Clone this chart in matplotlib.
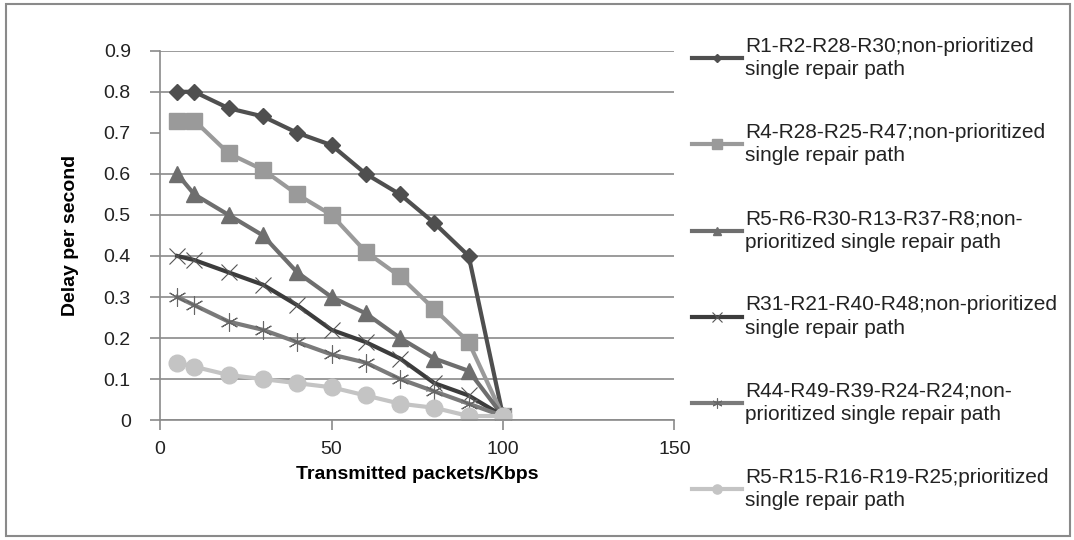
"""
Delay per second vs transmitted packets for several repair paths.
Writes out.png
"""
import matplotlib.pyplot as plt
from matplotlib.patches import Rectangle

plt.rcParams['font.family'] = ['Liberation Sans', 'DejaVu Sans']

x = [5, 10, 20, 30, 40, 50, 60, 70, 80, 90, 100]

r1 = [0.80, 0.80, 0.76, 0.74, 0.70, 0.67, 0.60, 0.55, 0.48, 0.40, 0.01]
r4 = [0.73, 0.73, 0.65, 0.61, 0.55, 0.50, 0.41, 0.35, 0.27, 0.19, 0.01]
r5 = [0.60, 0.55, 0.50, 0.45, 0.36, 0.30, 0.26, 0.20, 0.15, 0.12, 0.01]
r31 = [0.40, 0.39, 0.36, 0.33, 0.28, 0.22, 0.19, 0.15, 0.09, 0.06, 0.01]
r44 = [0.30, 0.28, 0.24, 0.22, 0.19, 0.16, 0.14, 0.10, 0.07, 0.04, 0.01]
r5p = [0.14, 0.13, 0.11, 0.10, 0.09, 0.08, 0.06, 0.04, 0.03, 0.01, 0.01]

labels = [
    'R1-R2-R28-R30;non-prioritized\nsingle repair path',
    'R4-R28-R25-R47;non-prioritized\nsingle repair path',
    'R5-R6-R30-R13-R37-R8;non-\nprioritized single repair path',
    'R31-R21-R40-R48;non-prioritized\nsingle repair path',
    'R44-R49-R39-R24-R24;non-\nprioritized single repair path',
    'R5-R15-R16-R19-R25;prioritized\nsingle repair path',
]
yticks = [0, 0.1, 0.2, 0.3, 0.4, 0.5, 0.6, 0.7, 0.8, 0.9]
xticks = [0, 50, 100, 150]

fig = plt.figure(figsize=(10.74, 5.40), dpi=100)
ax = fig.add_axes([0.149, 0.222, 0.479, 0.684])

series = [
    (r1, dict(color='#4f4f4f', marker='D', markersize=8, lw=3)),
    (r4, dict(color='#9a9a9a', marker='s', markersize=12, lw=3)),
    (r5, dict(color='#6e6e6e', marker='^', markersize=11, lw=3)),
    (r31, dict(color='#3c3c3c', marker='x', markersize=12, lw=3,
               markeredgewidth=0.8, markeredgecolor='#555555')),
    (r44, dict(color='#7a7a7a', marker=(6, 2, 0), markersize=13, lw=3,
               markeredgewidth=0.8, markeredgecolor='#666666')),
    (r5p, dict(color='#c4c4c4', marker='o', markersize=12, lw=3)),
]
handles = []
for ys, style in series:
    h, = ax.plot(x, ys, **style)
    handles.append(h)

ax.set_xlim(0, 150)
ax.set_ylim(0, 0.9)
ax.set_xticks(xticks)
ax.set_yticks(yticks)
ax.set_yticklabels(['0' if v == 0 else f'{v:.1f}' for v in yticks])
ax.grid(axis='y', color='#8a8a8a', lw=1.2)
# the 0.7 gridline does not show in the original
ax.get_ygridlines()[7].set_visible(False)
ax.set_axisbelow(True)
ax.tick_params(axis='both', labelsize=14, colors='#8a8a8a',
               labelcolor='#222222', direction='out', length=7, width=1.2)
ax.tick_params(axis='y', pad=14)
ax.tick_params(axis='x', pad=8)
for s in ['top', 'right']:
    ax.spines[s].set_visible(False)
for s in ['left', 'bottom']:
    ax.spines[s].set_color('#8a8a8a')
    ax.spines[s].set_linewidth(1.2)
ax.set_xlabel('Transmitted packets/Kbps', fontsize=14, fontweight='bold', labelpad=6)
ax.set_ylabel('Delay per second', fontsize=14, fontweight='bold', labelpad=18)

leg = fig.legend(handles, labels, loc='upper left', bbox_to_anchor=(0.627, 0.967),
                 frameon=False, fontsize=15, handlelength=2.4, handletextpad=0.15,
                 labelspacing=2.1, markerscale=0.55)
for t in leg.get_texts():
    t.set_linespacing(1.3)
    t.set_color('#222222')

fig.patches.append(Rectangle((0.006, 0.008), 0.99, 0.985, transform=fig.transFigure,
                             fill=False, edgecolor='#8a8a8a', lw=1.5))

fig.savefig('out.png', dpi=100)
